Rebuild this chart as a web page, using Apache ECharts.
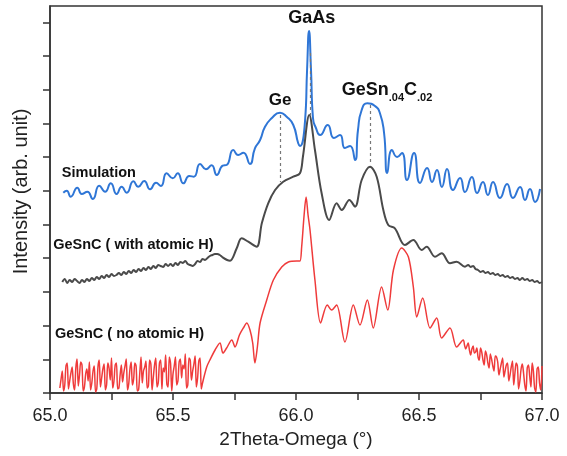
<!DOCTYPE html>
<html><head><meta charset="utf-8">
<script src="https://cdn.jsdelivr.net/npm/echarts@6/dist/echarts.min.js"></script>
<style>html,body{margin:0;padding:0;background:#fff}#c{width:567px;height:456px}</style>
</head><body><div id="c"></div>
<script>
// ---- data (x: 2Theta-Omega in degrees, y: intensity in arb. units, curves vertically offset) ----
const simulation = [
[65.054,200.3],[65.068,202.3],[65.084,196.3],[65.111,205.3],[65.129,199],[65.152,201.3],[65.174,194],
[65.200,207.3],[65.224,201.3],[65.247,209.7],[65.271,199],[65.291,206.3],[65.312,200.3],[65.339,211.7],
[65.359,206.3],[65.383,212],[65.407,203.7],[65.431,210.3],[65.451,207],[65.474,219.7],[65.499,214.7],
[65.519,219.7],[65.542,209.7],[65.566,217],[65.585,216.3],[65.610,229],[65.634,223.7],[65.657,227.7],
[65.678,218],[65.702,227.3],[65.718,228],[65.745,243],[65.765,238],[65.786,240.3],[65.813,229],
[65.833,244.7],[65.854,253],[65.874,266.3],[65.901,274.7],[65.935,280.3],[65.962,276.3],[65.989,268],
[66.009,249.7],[66.016,247],[66.037,273],[66.045,323],[66.053,362],[66.061,323],[66.069,275],[66.081,265],
[66.098,258],[66.129,268],[66.154,255],[66.179,258],[66.199,245],[66.220,247],[66.240,233],[66.252,263],
[66.267,283],[66.290,289.7],[66.321,287],[66.341,280],[66.358,260],[66.371,220],[66.390,243],[66.411,236],
[66.431,240],[66.451,213],[66.480,240],[66.504,210],[66.533,225],[66.553,211],[66.573,223],[66.593,206],
[66.614,224],[66.638,203],[66.667,215],[66.687,201],[66.715,216],[66.736,200],[66.760,211],[66.780,198],
[66.801,211],[66.829,195],[66.858,209],[66.882,195],[66.911,206],[66.931,193],[66.951,204],[66.972,191],
[66.992,204]
];
const withAtomicH = [
[65.05,111],[65.06,114],[65.07,110],[65.08,113],[65.09,111],[65.10,114],[65.11,112],[65.12,110],[65.13,113],
[65.14,111],[65.15,114],[65.16,112],[65.17,115],[65.18,113],[65.19,116],[65.20,114],[65.21,117],[65.22,115],
[65.23,118],[65.24,116],[65.25,119],[65.26,117],[65.27,118],[65.28,120],[65.29,118],[65.30,121],[65.31,119],
[65.32,122],[65.33,120],[65.34,123],[65.35,121],[65.36,124],[65.37,122],[65.38,125],[65.39,123],[65.40,126],
[65.41,124],[65.42,127],[65.43,125],[65.44,128],[65.45,127],[65.46,126],[65.47,129],[65.48,127],[65.49,129],
[65.50,127],[65.51,130],[65.52,128],[65.53,131],[65.54,130],[65.55,132],[65.56,129],[65.57,128],[65.58,127],
[65.59,129],[65.60,132],[65.61,131],[65.62,134],[65.63,133],[65.64,135],[65.65,137],[65.66,138],[65.67,139],
[65.68,139],[65.69,138],[65.70,136],[65.72,133],[65.732,132.3],[65.759,144.7],[65.779,154.7],[65.806,151.3],
[65.840,146.3],[65.861,169.7],[65.887,189.7],[65.915,203],[65.948,211.3],[65.989,216.3],[66.016,219.7],
[66.028,236],[66.054,278],[66.077,243],[66.104,200],[66.135,173],[66.165,189.7],[66.186,183],[66.217,193],
[66.240,186.3],[66.267,213],[66.301,226.3],[66.328,216.3],[66.355,183],[66.375,168],[66.402,164.7],
[66.443,148],[66.477,153],[66.511,143],[66.531,146.3],[66.565,136.3],[66.592,139.7],[66.626,129.7],
[66.653,131.3],[66.687,126.3],[66.70,128],[66.71,126],[66.72,127],[66.73,124],[66.74,123],[66.75,121],
[66.76,122],[66.77,120],[66.78,121],[66.79,119],[66.80,120],[66.81,118],[66.82,119],[66.83,117],[66.84,118],
[66.85,116],[66.86,117],[66.87,115],[66.88,116],[66.89,114],[66.90,115],[66.91,113],[66.92,115],[66.93,113],
[66.94,114],[66.95,112],[66.96,113],[66.97,111],[66.98,112],[66.99,110],[67.00,111]
];
const noAtomicH = [
[65.040,5],[65.045,14],[65.050,22],[65.055,2],[65.060,8],[65.065,27],[65.070,30],[65.075,4],[65.080,12],
[65.085,20],[65.090,26],[65.095,9],[65.100,3],[65.105,25],[65.110,34],[65.115,7],[65.120,18],[65.125,31],
[65.130,28],[65.135,2],[65.140,6],[65.145,19],[65.150,24],[65.155,12],[65.160,31],[65.165,3],[65.170,10],
[65.175,22],[65.180,27],[65.185,1],[65.190,4],[65.195,26],[65.200,33],[65.205,6],[65.210,15],[65.215,24],
[65.220,29],[65.225,3],[65.230,8],[65.235,30],[65.240,25],[65.245,13],[65.250,35],[65.255,5],[65.260,12],
[65.265,28],[65.270,30],[65.275,4],[65.280,5],[65.285,18],[65.290,28],[65.295,11],[65.300,20],[65.305,27],
[65.310,34],[65.315,3],[65.320,9],[65.325,24],[65.330,31],[65.335,8],[65.340,14],[65.345,30],[65.350,27],
[65.355,2],[65.360,3],[65.365,20],[65.370,36],[65.375,10],[65.380,22],[65.385,26],[65.390,32],[65.395,5],
[65.400,7],[65.405,33],[65.410,29],[65.415,3],[65.420,16],[65.425,28],[65.430,35],[65.435,6],[65.440,10],
[65.445,30],[65.450,33],[65.455,4],[65.460,25],[65.465,21],[65.470,38],[65.475,9],[65.480,6],[65.485,36],
[65.490,30],[65.495,2],[65.500,19],[65.505,27],[65.510,36],[65.515,8],[65.520,12],[65.525,31],[65.530,34],
[65.535,15],[65.540,28],[65.545,24],[65.550,39],[65.555,5],[65.560,8],[65.565,35],[65.570,33],[65.575,13],
[65.580,22],[65.585,29],[65.590,37],[65.595,6],[65.600,15],[65.605,32],[65.610,35],[65.615,4],[65.620,10],
[65.637,26],[65.650,33],[65.671,43],[65.691,50],[65.703,40],[65.718,45],[65.739,53],[65.752,46],[65.770,58],
[65.786,65],[65.800,70],[65.813,63],[65.824,50],[65.833,30],[65.843,46],[65.854,70],[65.881,93],[65.908,113],
[65.942,126],[65.969,131],[66.003,132],[66.016,132],[66.023,146],[66.033,178],[66.041,196],[66.049,178],
[66.057,163],[66.077,113],[66.100,70],[66.127,88],[66.145,83],[66.165,88],[66.199,51],[66.233,88],[66.260,68],
[66.290,93],[66.314,65],[66.348,106],[66.373,83],[66.396,123],[66.430,145],[66.457,136],[66.477,106],
[66.491,76],[66.515,95],[66.545,65],[66.572,75],[66.592,55],[66.626,65],[66.653,46],
[66.680,53],[66.685,48],[66.690,44],[66.695,47],[66.700,50],[66.705,43],[66.710,38],[66.715,44],[66.720,47],
[66.725,40],[66.730,41],[66.735,45],[66.740,36],[66.745,33],[66.750,45],[66.755,41],[66.760,33],[66.765,28],
[66.770,42],[66.775,38],[66.780,30],[66.785,25],[66.790,39],[66.795,34],[66.800,27],[66.805,22],[66.810,37],
[66.815,36],[66.820,31],[66.825,18],[66.830,24],[66.835,30],[66.840,35],[66.845,16],[66.850,22],[66.855,28],
[66.860,30],[66.865,12],[66.870,18],[66.875,26],[66.880,32],[66.885,8],[66.890,20],[66.895,30],[66.900,27],
[66.905,4],[66.910,12],[66.915,24],[66.920,29],[66.925,20],[66.930,8],[66.935,2],[66.940,25],[66.945,28],
[66.950,17],[66.955,6],[66.960,30],[66.965,22],[66.970,5],[66.975,1],[66.980,24],[66.985,26],[66.990,10],
[66.995,3],[67.000,27]
];
// peak reference lines: position (deg), top and bottom intensity
const peakNames = ['Ge', 'GaAs', 'GeSn.04C.02'];
const peakX = [65.935, 66.057, 66.301];
const peakTop = [278, 340, 288];
const peakBottom = [211, 276, 228];
const xTickLabels = ['65.0', '65.5', '66.0', '66.5', '67.0'];
const yTicks = [0, 33.7, 67.4, 101.1, 134.8, 168.5, 202.2, 235.9, 269.6, 303.3, 337, 370.7];

const FONT = '"Liberation Sans", Arial, Helvetica, sans-serif';
const chart = echarts.init(document.getElementById('c'));
const dashData = peakX.map((x, i) => [{coord: [x, peakTop[i]]}, {coord: [x, peakBottom[i]]}]);

chart.setOption({
  animation: false,
  grid: {left: 50, right: 25, top: 6, bottom: 63, show: true, borderColor: '#333', borderWidth: 1.5},
  xAxis: {
    type: 'value', min: 65, max: 67, interval: 0.25,
    axisLine: {lineStyle: {color: '#333', width: 1.5}},
    axisTick: {length: 7, lineStyle: {color: '#333', width: 1.5}},
    axisLabel: {
      fontSize: 18, color: '#222', fontFamily: FONT, margin: 14,
      formatter: v => { const s = v.toFixed(1); return (xTickLabels.indexOf(s) >= 0 && Math.abs(v * 2 - Math.round(v * 2)) < 1e-6) ? s : ''; }
    },
    splitLine: {show: false},
    name: '2Theta-Omega (°)', nameLocation: 'middle', nameGap: 35,
    nameTextStyle: {fontSize: 19, color: '#222', fontFamily: FONT}
  },
  yAxis: {
    type: 'value', min: 0, max: 387, interval: 33.7,
    axisLine: {show: true, lineStyle: {color: '#333', width: 1.5}},
    axisTick: {show: true, length: 7, customValues: yTicks, lineStyle: {color: '#333', width: 1.5}},
    axisLabel: {show: false},
    splitLine: {show: false}
  },
  series: [
    {name: 'Simulation', type: 'line', data: simulation, showSymbol: false, smooth: 0.55,
     lineStyle: {color: '#2f76d6', width: 2}, itemStyle: {color: '#2f76d6'},
     markLine: {silent: true, symbol: ['none', 'none'], label: {show: false},
       lineStyle: {type: [3, 3], color: '#777', width: 1.2}, data: dashData}},
    {name: 'GeSnC ( with atomic H)', type: 'line', data: withAtomicH, showSymbol: false, smooth: 0.35,
     lineStyle: {color: '#4a4a4a', width: 2}, itemStyle: {color: '#4a4a4a'}},
    {name: 'GeSnC ( no atomic H)', type: 'line', data: noAtomicH, showSymbol: false, smooth: 0.3,
     lineStyle: {color: '#ef3b3b', width: 1.5}, itemStyle: {color: '#ef3b3b'}}
  ]
});

const P = (x, y) => chart.convertToPixel({gridIndex: 0}, [x, y]);
const boldStyle = (size) => ({fontSize: size, fontWeight: 'bold', fontFamily: FONT, fill: '#111'});
const anns = [
  {text: 'Simulation', at: [65.048, 220], align: 'left', size: 14.5},
  {text: 'GeSnC ( with atomic H)', at: [65.013, 148], align: 'left', size: 14.5},
  {text: 'GeSnC ( no atomic H)', at: [65.020, 59], align: 'left', size: 14.5},
  {text: peakNames[0], at: [65.935, 293], align: 'center', size: 17},
  {text: peakNames[1], at: [66.064, 375], align: 'center', size: 18}
];
const g = anns.map(a => {
  const p = P(a.at[0], a.at[1]);
  return {type: 'text', x: p[0], y: p[1], silent: true,
    style: Object.assign({text: a.text, align: a.align, verticalAlign: 'middle'}, boldStyle(a.size))};
});
const gp = P(66.186, 303);
g.push({type: 'text', x: gp[0], y: gp[1], silent: true,
  style: {text: '{m|GeSn}{s|.04}{m|C}{s|.02}', align: 'left', verticalAlign: 'middle',
    rich: {
      m: {fontSize: 18, fontWeight: 'bold', fontFamily: FONT, fill: '#111', lineHeight: 26},
      s: {fontSize: 11, fontWeight: 'bold', fontFamily: FONT, fill: '#111', lineHeight: 14, verticalAlign: 'bottom'}
    }}});
g.push({type: 'text', x: 21, y: 191.5, rotation: Math.PI / 2, silent: true,
  style: {text: 'Intensity (arb. unit)', align: 'center', verticalAlign: 'middle',
    fontSize: 20, fontFamily: FONT, fill: '#222'}});
chart.setOption({graphic: g});
</script></body></html>
